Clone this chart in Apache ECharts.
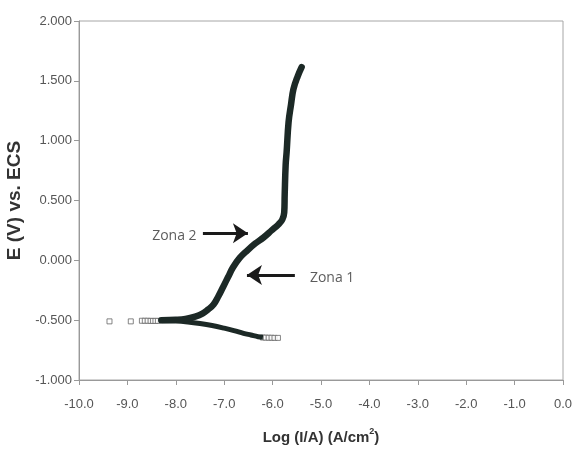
<!DOCTYPE html>
<html>
<head>
<meta charset="utf-8">
<script src="https://cdn.jsdelivr.net/npm/echarts@6/dist/echarts.min.js"></script>
<style>
  html, body { margin: 0; padding: 0; background: #fff; }
  #chart { width: 574px; height: 450px; }
</style>
</head>
<body>
<div id="chart"></div>
<script>
// Potentiodynamic polarization curve: log current density vs. potential
const xTicks = [-10, -9, -8, -7, -6, -5, -4, -3, -2, -1, 0];
const yTicks = [-1, -0.5, 0, 0.5, 1, 1.5, 2];

// Cathodic branch (dense part), [log I, E]
const cathodic = [
  [-8.30, -0.505], [-8.00, -0.507], [-7.75, -0.515], [-7.50, -0.528],
  [-7.25, -0.545], [-7.00, -0.567], [-6.80, -0.587], [-6.60, -0.610],
  [-6.45, -0.624], [-6.30, -0.638], [-6.20, -0.643]
];

// Anodic branch (dense part), [log I, E]
const anodic = [
  [-8.30, -0.500], [-8.00, -0.497], [-7.80, -0.490], [-7.60, -0.470],
  [-7.45, -0.445], [-7.33, -0.410], [-7.22, -0.370], [-7.12, -0.300],
  [-7.02, -0.220], [-6.92, -0.140], [-6.82, -0.060], [-6.68, 0.020],
  [-6.53, 0.080], [-6.36, 0.140], [-6.19, 0.190], [-6.02, 0.250],
  [-5.88, 0.300], [-5.80, 0.340], [-5.76, 0.400], [-5.75, 0.550],
  [-5.73, 0.800], [-5.71, 0.905], [-5.67, 1.155], [-5.62, 1.300],
  [-5.57, 1.430], [-5.48, 1.540], [-5.40, 1.615]
];

// Sparse measured points drawn as open squares
const sparsePoints = [
  [-9.37, -0.510], [-8.93, -0.510],
  [-8.70, -0.505], [-8.64, -0.505], [-8.58, -0.505], [-8.52, -0.506],
  [-8.47, -0.506], [-8.42, -0.506], [-8.37, -0.506],
  [-6.20, -0.645], [-6.14, -0.646], [-6.08, -0.647], [-6.02, -0.647],
  [-5.96, -0.648], [-5.89, -0.648]
];

// Zone annotations: arrow start, arrow end, label position
const zones = [
  { name: 'Zona 2', from: [-7.44, 0.226], to: [-6.51, 0.226], label: [-8.03, 0.200] },
  { name: 'Zona 1', from: [-5.54, -0.123], to: [-6.53, -0.123], label: [-4.77, -0.148] }
];

const curveColor = '#1c2926';
const axisFont = '"Liberation Sans", Arial, sans-serif';

const chart = echarts.init(document.getElementById('chart'), null, { renderer: 'canvas' });

chart.setOption({
  backgroundColor: '#fff',
  animation: false,
  grid: {
    left: 79, right: 11, top: 21, bottom: 70,
    outerBoundsMode: 'none', containLabel: false,
    show: true, borderColor: '#a6a6a6', borderWidth: 1
  },
  xAxis: {
    type: 'value',
    min: xTicks[0], max: xTicks[xTicks.length - 1], interval: 1,
    name: '{t|Log (I/A) (A/cm}{s|2}{t|)}',
    nameLocation: 'middle', nameGap: 47,
    nameTextStyle: {
      rich: {
        t: { fontFamily: axisFont, fontWeight: 'bold', fontSize: 15, color: '#333', verticalAlign: 'bottom' },
        s: { fontFamily: axisFont, fontWeight: 'bold', fontSize: 9, color: '#333', verticalAlign: 'top', padding: [0, 0, 9, 0] }
      }
    },
    axisLine: { show: true, onZero: false, lineStyle: { color: '#999' } },
    axisTick: { show: true, inside: false, length: 5, lineStyle: { color: '#999' } },
    splitLine: { show: false },
    axisLabel: {
      margin: 18, color: '#555', fontFamily: axisFont, fontSize: 13,
      formatter: v => v.toFixed(1)
    }
  },
  yAxis: {
    type: 'value',
    min: yTicks[0], max: yTicks[yTicks.length - 1], interval: 0.5,
    name: 'E (V) vs. ECS',
    nameLocation: 'middle', nameGap: 54, nameRotate: 90,
    nameTextStyle: { fontFamily: axisFont, fontWeight: 'bold', fontSize: 19, color: '#333' },
    axisLine: { show: true, onZero: false, lineStyle: { color: '#999' } },
    axisTick: { show: true, inside: false, length: 5, lineStyle: { color: '#999' } },
    splitLine: { show: false },
    axisLabel: {
      margin: 7, color: '#555', fontFamily: axisFont, fontSize: 13,
      formatter: v => v.toFixed(3)
    }
  },
  series: [
    {
      name: 'cathodic', type: 'line', data: cathodic, smooth: 0.4,
      symbol: 'none', lineStyle: { color: curveColor, width: 5 }, z: 3
    },
    {
      name: 'anodic', type: 'line', data: anodic, smooth: 0.4,
      symbol: 'none', lineStyle: { color: curveColor, width: 6.5, cap: 'round', join: 'round' }, z: 3
    },
    {
      name: 'points', type: 'scatter', data: sparsePoints,
      symbol: 'rect', symbolSize: 5,
      itemStyle: { color: '#fff', borderColor: '#666', borderWidth: 1 }, z: 2
    },
    {
      name: 'zones', type: 'scatter', symbolSize: 0,
      data: zones.map(z => ({ value: z.label, name: z.name })),
      label: {
        show: true, position: 'inside', formatter: p => p.name,
        fontFamily: 'Open Sans', fontSize: 14, color: '#333'
      },
      markLine: {
        silent: true, symbol: ['none', 'arrow'], symbolSize: [15, 15],
        lineStyle: { color: '#1a1a1a', width: 3, type: 'solid' },
        label: { show: false },
        data: zones.map(z => [{ coord: z.from }, { coord: z.to }])
      },
      z: 4
    }
  ]
});
</script>
</body>
</html>
